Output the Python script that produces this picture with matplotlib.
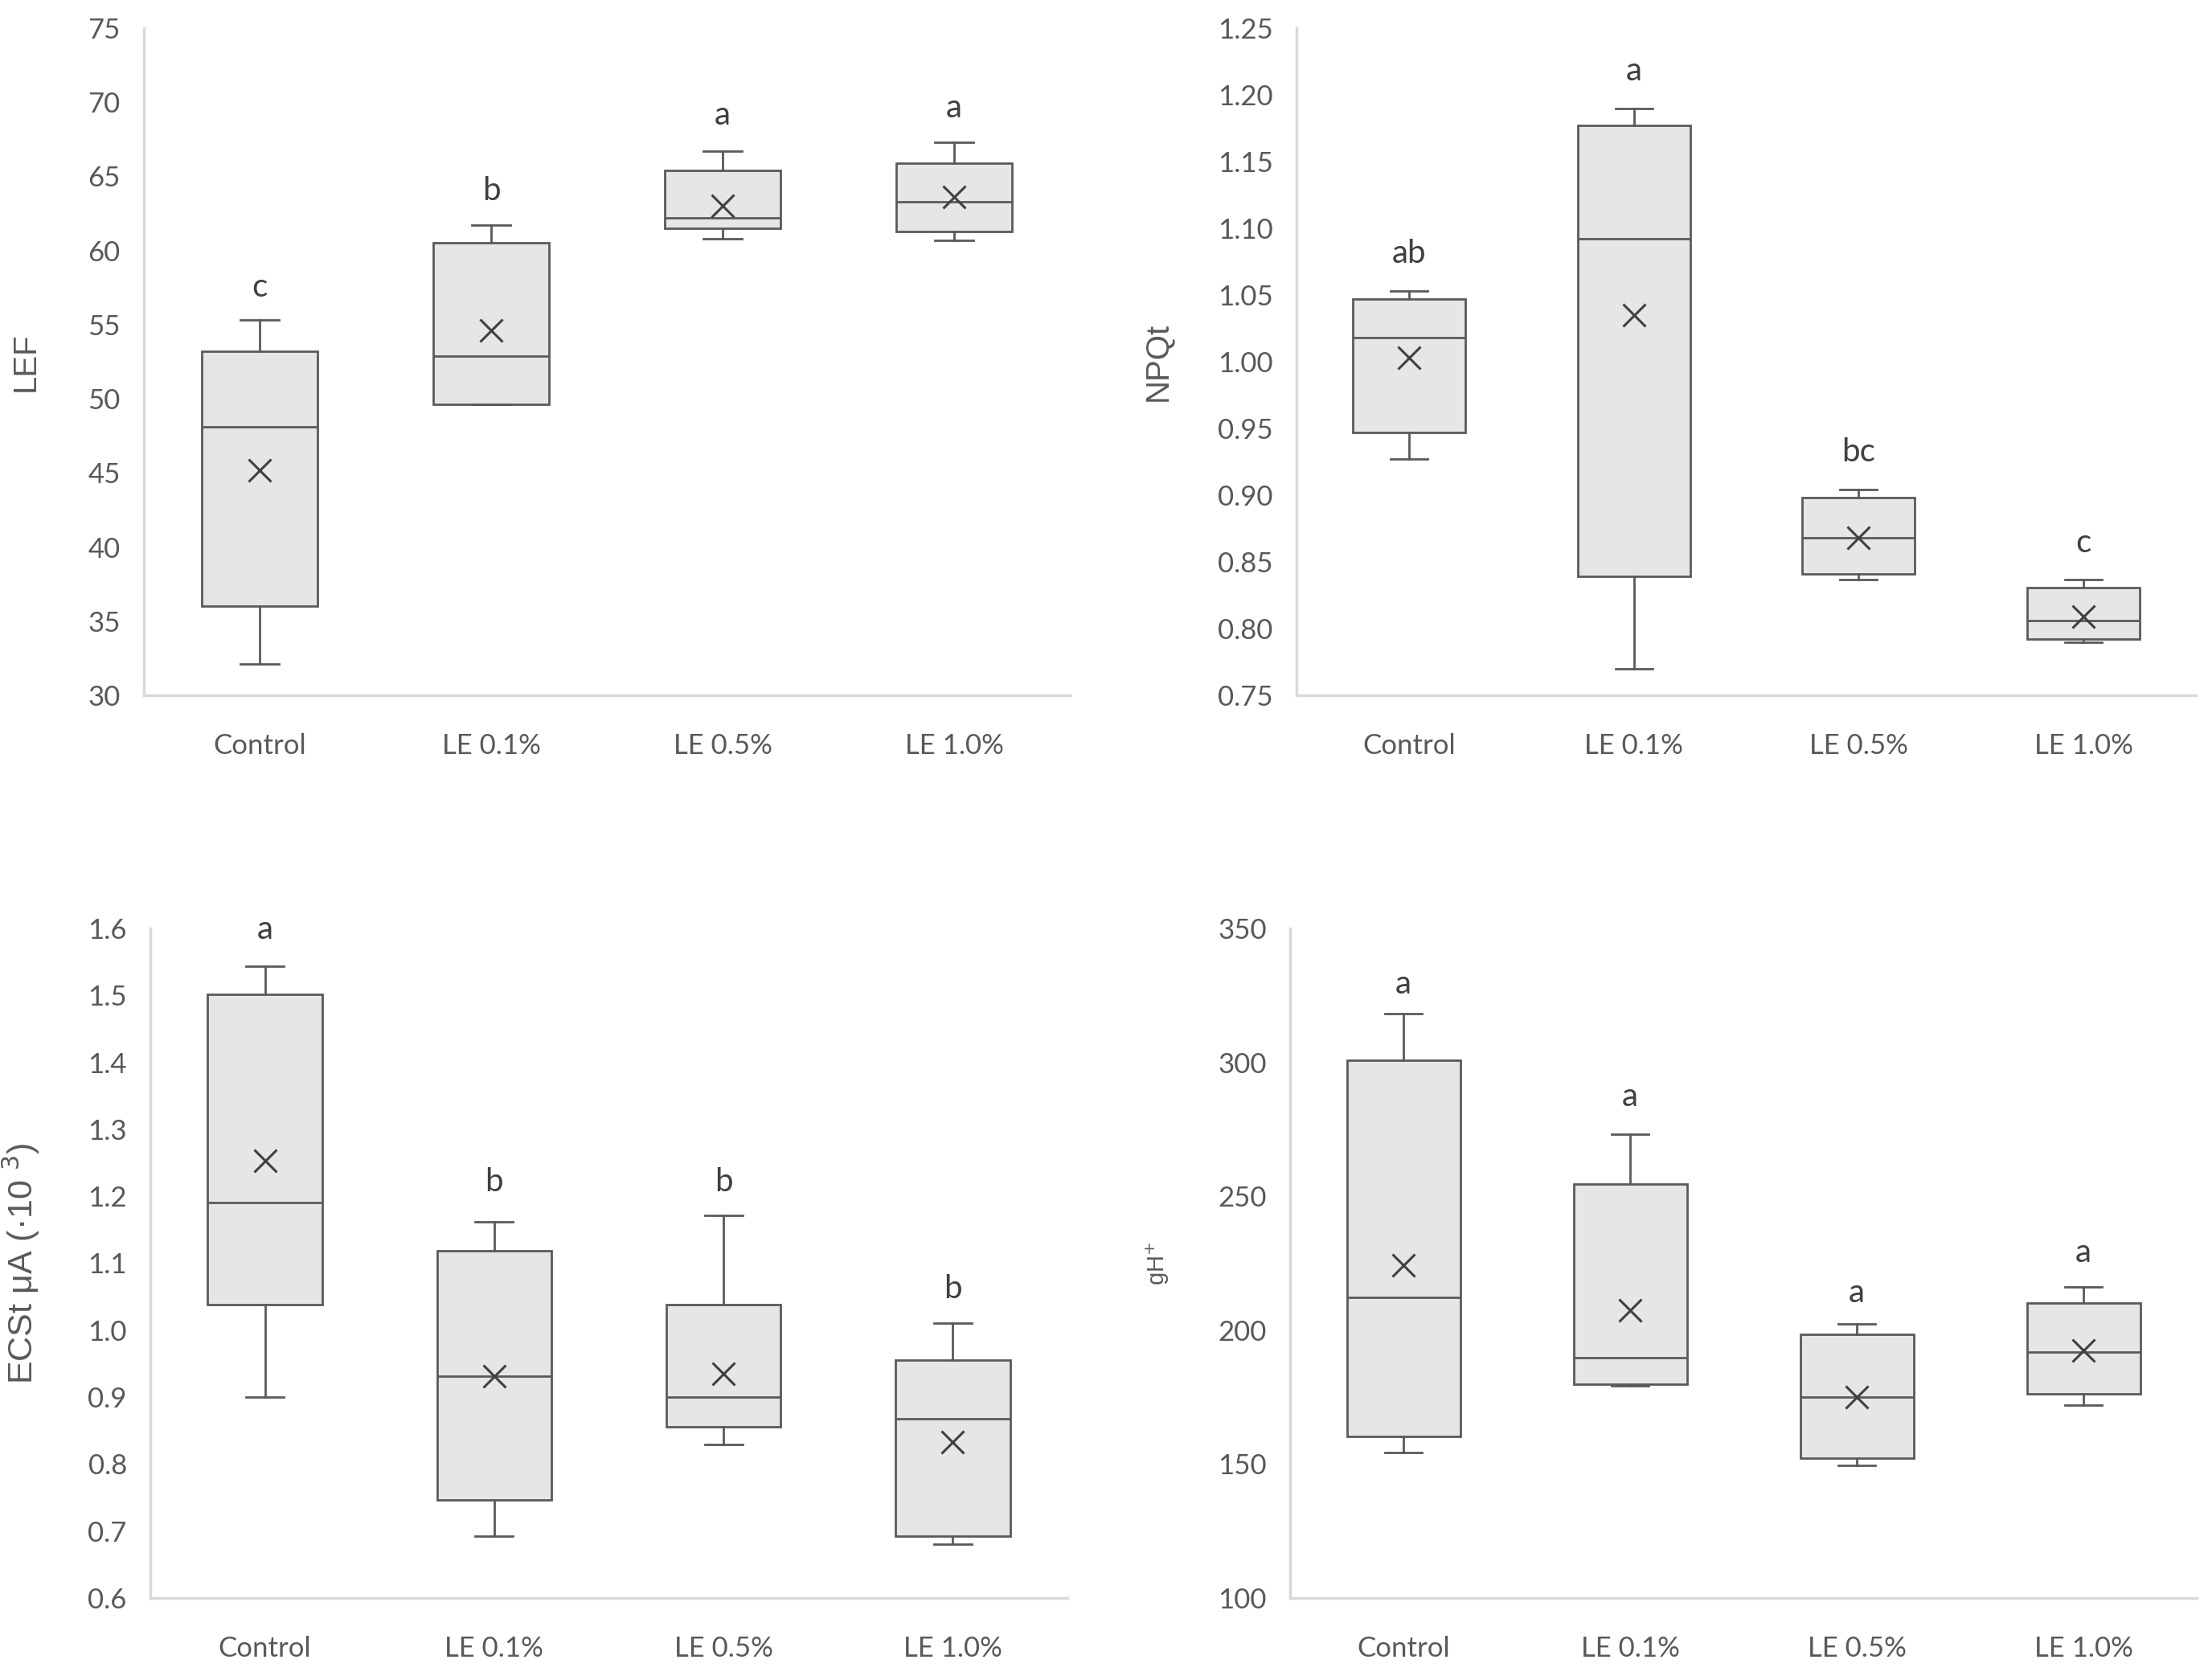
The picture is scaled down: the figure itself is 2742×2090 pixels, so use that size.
import matplotlib
matplotlib.use('Agg')
from matplotlib.pyplot import figure

groups = ['Control', 'LE 0.1%', 'LE 0.5%', 'LE 1.0%']

# five-number summaries + mean
lef_whislo = [32.1, 49.6, 60.8, 60.7]
lef_q1 = [36.0, 49.6, 61.5, 61.3]
lef_med = [48.1, 52.9, 62.2, 63.3]
lef_q3 = [53.2, 60.5, 65.4, 65.9]
lef_whishi = [55.3, 61.7, 66.7, 67.3]
lef_mean = [45.2, 54.6, 63.0, 63.6]
lef_letters = ['c', 'b', 'a', 'a']
lef_letter_y = [57.5, 64.0, 69.1, 69.6]

npq_whislo = [0.927, 0.770, 0.837, 0.790]
npq_q1 = [0.947, 0.839, 0.841, 0.792]
npq_med = [1.018, 1.092, 0.868, 0.806]
npq_q3 = [1.047, 1.177, 0.898, 0.831]
npq_whishi = [1.053, 1.190, 0.904, 0.837]
npq_mean = [1.003, 1.035, 0.868, 0.809]
npq_letters = ['ab', 'a', 'bc', 'c']
npq_letter_y = [1.081, 1.218, 0.932, 0.864]

ecs_whislo = [0.900, 0.692, 0.829, 0.680]
ecs_q1 = [1.038, 0.747, 0.856, 0.692]
ecs_med = [1.191, 0.931, 0.900, 0.868]
ecs_q3 = [1.501, 1.119, 1.038, 0.955]
ecs_whishi = [1.544, 1.162, 1.171, 1.010]
ecs_mean = [1.253, 0.931, 0.935, 0.833]
ecs_letters = ['a', 'b', 'b', 'b']
ecs_letter_y = [1.598, 1.221, 1.221, 1.062]

gh_whislo = [154.3, 179.1, 149.5, 172.1]
gh_q1 = [160.3, 179.9, 152.3, 176.1]
gh_med = [212.2, 189.7, 174.9, 191.7]
gh_q3 = [300.7, 254.6, 198.4, 210.2]
gh_whishi = [318.3, 273.1, 202.4, 216.2]
gh_mean = [224.2, 207.4, 174.9, 192.5]
gh_letters = ['a', 'a', 'a', 'a']
gh_letter_y = [329, 287, 214, 229]

W, H = 2742, 2090
fig = figure(figsize=(W / 100, H / 100), dpi=100)

TXT = '#595959'
EDGE = '#5a5a5a'
FILL = '#e6e6e6'


def make_axes(left, right, top, bottom):
    return fig.add_axes([left / W, 1 - bottom / H, (right - left) / W, (bottom - top) / H])


panels = [
    (make_axes(179, 1331, 35, 865), 'LEF', 29, (30, 75), 5, '{:.0f}',
     lef_whislo, lef_q1, lef_med, lef_q3, lef_whishi, lef_mean, lef_letters, lef_letter_y, 51),
    (make_axes(1613, 2732, 35, 865), 'NPQt', 29, (0.75, 1.25), 0.05, '{:.2f}',
     npq_whislo, npq_q1, npq_med, npq_q3, npq_whishi, npq_mean, npq_letters, npq_letter_y, 1459),
    (make_axes(187, 1328, 1155, 1988), 'ECSt μA (·10 $^{3}$)', 31, (0.6, 1.6), 0.1, '{:.1f}',
     ecs_whislo, ecs_q1, ecs_med, ecs_q3, ecs_whishi, ecs_mean, ecs_letters, ecs_letter_y, 52),
    (make_axes(1605, 2733, 1155, 1988), 'gH$^{+}$', 21, (100, 350), 50, '{:.0f}',
     gh_whislo, gh_q1, gh_med, gh_q3, gh_whishi, gh_mean, gh_letters, gh_letter_y, 1457),
]

for ax, ylab, fs, ylim, step, fmt, wlo, q1, med, q3, whi, mean, letters, ly, labx in panels:
    stats = []
    for i in range(len(groups)):
        stats.append(dict(whislo=wlo[i], q1=q1[i], med=med[i], q3=q3[i], whishi=whi[i],
                          mean=mean[i], fliers=[], label=groups[i]))
    ax.bxp(stats, positions=range(1, 5), widths=0.5, patch_artist=True, showmeans=True,
           boxprops=dict(facecolor=FILL, edgecolor=EDGE, linewidth=2.0),
           medianprops=dict(color=EDGE, linewidth=2.0),
           whiskerprops=dict(color=EDGE, linewidth=2.0),
           capprops=dict(color=EDGE, linewidth=2.0),
           capwidths=0.165,
           meanprops=dict(marker='x', markersize=20, markeredgewidth=2.2,
                          markeredgecolor='#404040'))
    ax.set_xlim(0.5, 4.5)
    ax.set_ylim(*ylim)
    n = int(round((ylim[1] - ylim[0]) / step))
    ticks = [ylim[0] + k * step for k in range(n + 1)]
    ax.set_yticks(ticks)
    ax.set_yticklabels([fmt.format(t) for t in ticks], family='Lato', fontsize=25, color=TXT)
    ax.set_xticks(range(1, 5))
    ax.set_xticklabels(groups, family='Lato', fontsize=25, color=TXT)
    ax.tick_params(axis='y', length=0, pad=21)
    ax.tick_params(axis='x', length=0, pad=34)
    for side in ('top', 'right'):
        ax.spines[side].set_visible(False)
    for side in ('left', 'bottom'):
        ax.spines[side].set_color('#d9d9d9')
        ax.spines[side].set_linewidth(2.5)
    for i, (lt, y) in enumerate(zip(letters, ly)):
        ax.text(i + 1, y, lt, ha='center', va='center', family='Lato', fontsize=29, color='#404040')
    ax.set_ylabel(ylab, family='Liberation Sans', fontsize=fs, color=TXT)
    bb = ax.get_position()
    ax.yaxis.set_label_coords((labx / W - bb.x0) / bb.width, 0.5)

fig.savefig('out.png', dpi=100)
